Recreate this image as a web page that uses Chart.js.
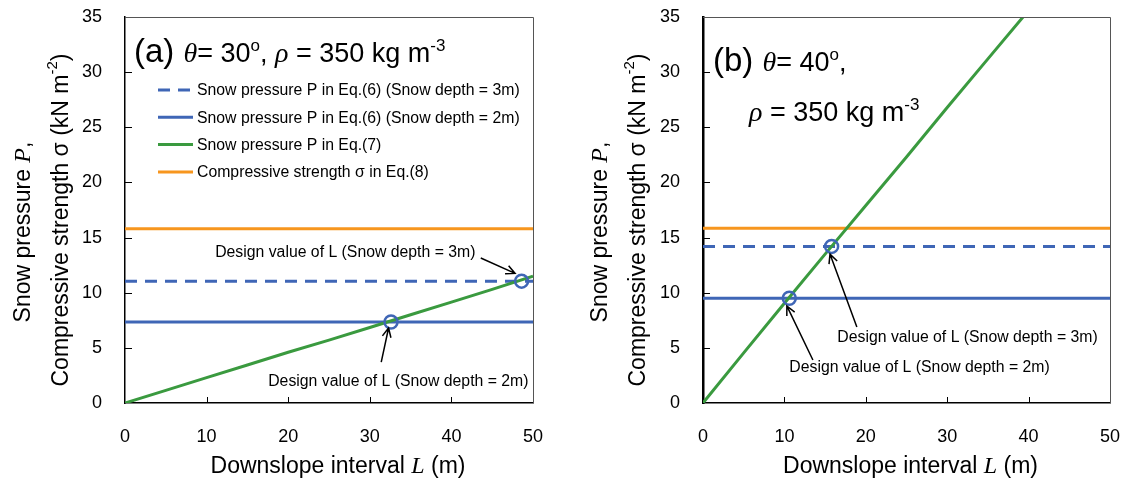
<!DOCTYPE html>
<html>
<head>
<meta charset="utf-8">
<script src="https://cdn.jsdelivr.net/npm/chart.js@4.4.1/dist/chart.umd.min.js"></script>
<style>
  html, body { margin: 0; padding: 0; background: #fff; }
  #wrap { position: relative; width: 1126px; height: 483px; }
  canvas { position: absolute; top: 0; }
</style>
</head>
<body>
<div id="wrap">
  <canvas id="chartA" width="563" height="483" style="left:0"></canvas>
  <canvas id="chartB" width="563" height="483" style="left:563px"></canvas>
</div>
<script>
// ---- data ----
const xTickValues = [0, 10, 20, 30, 40, 50];
const yTickValues = [0, 5, 10, 15, 20, 25, 30, 35];

// (a) theta = 30
const intervalA = [0, 5, 10, 15, 20, 25, 30, 35, 40, 45, 50];
const eq7A = [0, 1.15, 2.3, 3.45, 4.6, 5.7, 6.85, 8.0, 9.15, 10.3, 11.5];
const depth3A = 11.05;
const depth2A = 7.35;
const sigmaA = 15.8;
const designLA = [32.6, 48.6];
const designPA = [7.35, 11.05];

// (b) theta = 40
const intervalB = [0, 5, 10, 15, 20, 25, 30, 35, 40];
const eq7B = [0, 4.55, 9.05, 13.5, 17.9, 22.3, 26.8, 31.2, 35.6];
const depth3B = 14.2;
const depth2B = 9.5;
const sigmaB = 15.85;
const designLB = [10.6, 15.8];
const designPB = [9.5, 14.2];

const BLUE = '#3F66B6';
const GREEN = '#3A9A3F';
const ORANGE = '#F7961E';
const SANS = '"Liberation Sans", Arial, sans-serif';
const SERIF = '"Liberation Serif", "Times New Roman", serif';

function flat(value) {
    return [{ x: 0, y: value }, { x: 50, y: value }];
}

function pairs(xs, ys) {
    return xs.map((x, i) => ({ x: x, y: ys[i] }));
}

// draw a run of text pieces with different fonts
function drawRich(ctx, x, y, parts) {
    parts.forEach(p => {
        ctx.font = p.font;
        ctx.fillText(p.t, x, y + (p.dy || 0));
        x += ctx.measureText(p.t).width;
    });
    return x;
}

function richWidth(ctx, parts) {
    let w = 0;
    parts.forEach(p => {
        ctx.font = p.font;
        w += ctx.measureText(p.t).width;
    });
    return w;
}

function arrow(ctx, x1, y1, x2, y2) {
    const ang = Math.atan2(y2 - y1, x2 - x1);
    const head = 10;
    ctx.beginPath();
    ctx.moveTo(x1, y1);
    ctx.lineTo(x2, y2);
    ctx.moveTo(x2 - head * Math.cos(ang - 0.45), y2 - head * Math.sin(ang - 0.45));
    ctx.lineTo(x2, y2);
    ctx.lineTo(x2 - head * Math.cos(ang + 0.45), y2 - head * Math.sin(ang + 0.45));
    ctx.stroke();
}

const yTitle1 = [
    { t: 'Snow pressure ', font: '23px ' + SANS },
    { t: 'P', font: 'italic 24px ' + SERIF },
    { t: ',', font: '23px ' + SANS }
];
const yTitle2 = [
    { t: 'Compressive strength σ (kN m', font: '23px ' + SANS },
    { t: '-2', font: '15px ' + SANS, dy: -9 },
    { t: ')', font: '23px ' + SANS }
];
const xTitle = [
    { t: 'Downslope interval ', font: '23px ' + SANS },
    { t: 'L', font: 'italic 24px ' + SERIF },
    { t: ' (m)', font: '23px ' + SANS }
];

const decorPlugin = {
    id: 'decor',
    afterDatasetsDraw(chart, args, opts) {
        const ctx = chart.ctx;
        const area = chart.chartArea;
        const xs = chart.scales.x;
        const ys = chart.scales.y;
        ctx.save();

        // top / right frame
        ctx.strokeStyle = '#555';
        ctx.lineWidth = 1;
        ctx.beginPath();
        ctx.moveTo(area.left, area.top + 0.5);
        ctx.lineTo(area.right + 0.5, area.top + 0.5);
        ctx.lineTo(area.right + 0.5, area.bottom);
        ctx.stroke();

        // inward ticks
        ctx.strokeStyle = '#000';
        ctx.beginPath();
        xTickValues.slice(1, -1).forEach(v => {
            const px = Math.round(xs.getPixelForValue(v)) + 0.5;
            ctx.moveTo(px, area.bottom);
            ctx.lineTo(px, area.bottom - 6);
        });
        yTickValues.slice(1, -1).forEach(v => {
            const py = Math.round(ys.getPixelForValue(v)) + 0.5;
            ctx.moveTo(area.left, py);
            ctx.lineTo(area.left + 7, py);
        });
        ctx.stroke();

        // legend
        if (opts.legend) {
            ctx.font = '15.8px ' + SANS;
            ctx.textBaseline = 'middle';
            opts.legend.forEach((item, i) => {
                const y = opts.legendTop + i * 27.3;
                ctx.strokeStyle = item.color;
                ctx.lineWidth = 3;
                ctx.setLineDash(item.dash || []);
                ctx.beginPath();
                ctx.moveTo(opts.legendLeft, y);
                ctx.lineTo(opts.legendLeft + 35, y);
                ctx.stroke();
                ctx.setLineDash([]);
                ctx.fillStyle = '#000';
                ctx.fillText(item.label, opts.legendLeft + 39, y + 1);
            });
        }

        // design value notes
        ctx.font = '15.8px ' + SANS;
        ctx.textAlign = 'center';
        ctx.textBaseline = 'middle';
        ctx.fillStyle = '#000';
        ctx.strokeStyle = '#000';
        ctx.lineWidth = 1.5;
        opts.notes.forEach(n => {
            ctx.fillText(n.text, xs.getPixelForValue(n.x), ys.getPixelForValue(n.y));
            arrow(ctx,
                xs.getPixelForValue(n.from[0]), ys.getPixelForValue(n.from[1]),
                xs.getPixelForValue(n.to[0]), ys.getPixelForValue(n.to[1]));
        });

        // panel heading
        ctx.textAlign = 'left';
        ctx.textBaseline = 'alphabetic';
        opts.heading.forEach(line => drawRich(ctx, line.x, line.y, line.parts));

        // axis titles
        ctx.textBaseline = 'middle';
        [[yTitle1, opts.yTitleX[0], 232], [yTitle2, opts.yTitleX[1], 220]].forEach(([parts, cx, cy]) => {
            ctx.save();
            ctx.translate(cx, cy);
            ctx.rotate(-Math.PI / 2);
            drawRich(ctx, -richWidth(ctx, parts) / 2, 0, parts);
            ctx.restore();
        });
        const midX = (area.left + area.right) / 2 + opts.xTitleShift;
        drawRich(ctx, midX - richWidth(ctx, xTitle) / 2, 467, xTitle);

        ctx.restore();
    }
};

function headingParts(theta, withRho) {
    const parts = [
        { t: 'θ', font: 'italic 28px ' + SERIF },
        { t: '= ' + theta, font: '27px ' + SANS },
        { t: 'o', font: '17px ' + SANS, dy: -11 },
        { t: ', ', font: '27px ' + SANS }
    ];
    if (withRho) parts.push(...rhoParts());
    return parts;
}

function rhoParts() {
    return [
        { t: 'ρ', font: 'italic 28px ' + SERIF },
        { t: ' = 350 kg m', font: '27px ' + SANS },
        { t: '-3', font: '17px ' + SANS, dy: -11 }
    ];
}

function makeChart(id, d) {
    new Chart(document.getElementById(id), {
        type: 'scatter',
        data: {
            datasets: [
                { data: pairs(d.designL, d.designP), showLine: false, pointRadius: 6.5,
                  pointBorderWidth: 2.5, pointBorderColor: BLUE, pointBackgroundColor: 'rgba(0,0,0,0)' },
                { data: pairs(d.interval, d.eq7), showLine: true, borderColor: GREEN, borderWidth: 3, pointRadius: 0 },
                { data: flat(d.depth3), showLine: true, borderColor: BLUE, borderWidth: 3, borderDash: [12, 8], pointRadius: 0 },
                { data: flat(d.depth2), showLine: true, borderColor: BLUE, borderWidth: 3, pointRadius: 0 },
                { data: flat(d.sigma), showLine: true, borderColor: ORANGE, borderWidth: 3, pointRadius: 0 }
            ]
        },
        options: {
            responsive: false,
            animation: false,
            layout: { padding: { left: 0, right: d.padRight, top: 17, bottom: 0 } },
            plugins: {
                legend: { display: false },
                tooltip: { enabled: false },
                decor: d.decor
            },
            scales: {
                x: {
                    type: 'linear', min: 0, max: 50,
                    afterFit: s => { s.height = 80; s.paddingLeft = 0; s.paddingRight = 0; },
                    afterBuildTicks: s => { s.ticks = xTickValues.map(v => ({ value: v })); },
                    grid: { display: false, drawTicks: false },
                    border: { display: true, color: '#000', width: 1.5 },
                    ticks: { padding: 23, color: '#000', font: { family: SANS, size: 18 } }
                },
                y: {
                    type: 'linear', min: 0, max: 35,
                    afterFit: s => { s.width = d.yWidth; s.paddingTop = 0; s.paddingBottom = 0; },
                    afterBuildTicks: s => { s.ticks = yTickValues.map(v => ({ value: v })); },
                    grid: { display: false, drawTicks: false },
                    border: { display: true, color: '#000', width: d.yBorder },
                    ticks: { padding: 23, color: '#000', font: { family: SANS, size: 18 } }
                }
            }
        },
        plugins: [decorPlugin]
    });
}

makeChart('chartA', {
    interval: intervalA, eq7: eq7A, depth3: depth3A, depth2: depth2A, sigma: sigmaA,
    designL: designLA, designP: designPA,
    yWidth: 125, padRight: 30, yBorder: 1.5,
    decor: {
        legendLeft: 158, legendTop: 90,
        legend: [
            { label: 'Snow pressure P in Eq.(6) (Snow depth = 3m)', color: BLUE, dash: [12, 8] },
            { label: 'Snow pressure P in Eq.(6) (Snow depth = 2m)', color: BLUE },
            { label: 'Snow pressure P in Eq.(7)', color: GREEN },
            { label: 'Compressive strength σ in Eq.(8)', color: ORANGE }
        ],
        notes: [
            { text: 'Design value of L (Snow depth = 3m)', x: 27.0, y: 13.6, from: [43.6, 13.15], to: [47.8, 11.75] },
            { text: 'Design value of L (Snow depth = 2m)', x: 33.5, y: 1.9, from: [31.4, 3.7], to: [32.3, 6.8] }
        ],
        heading: [
            { x: 134, y: 62, parts: [{ t: '(a) ', font: '33px ' + SANS }].concat(headingParts('30', true)) }
        ],
        yTitleX: [24, 62],
        xTitleShift: 9
    }
});

makeChart('chartB', {
    interval: intervalB, eq7: eq7B, depth3: depth3B, depth2: depth2B, sigma: sigmaB,
    designL: designLB, designP: designPB,
    yWidth: 140, padRight: 16, yBorder: 2.5,
    decor: {
        notes: [
            { text: 'Design value of L (Snow depth = 3m)', x: 32.5, y: 5.9, from: [18.9, 6.9], to: [15.6, 13.5] },
            { text: 'Design value of L (Snow depth = 2m)', x: 26.6, y: 3.2, from: [13.5, 3.9], to: [10.3, 8.8] }
        ],
        heading: [
            { x: 150, y: 71, parts: [{ t: '(b) ', font: '33px ' + SANS }].concat(headingParts('40', false)) },
            { x: 186, y: 121, parts: rhoParts() }
        ],
        yTitleX: [38, 76],
        xTitleShift: 4
    }
});
</script>
</body>
</html>
